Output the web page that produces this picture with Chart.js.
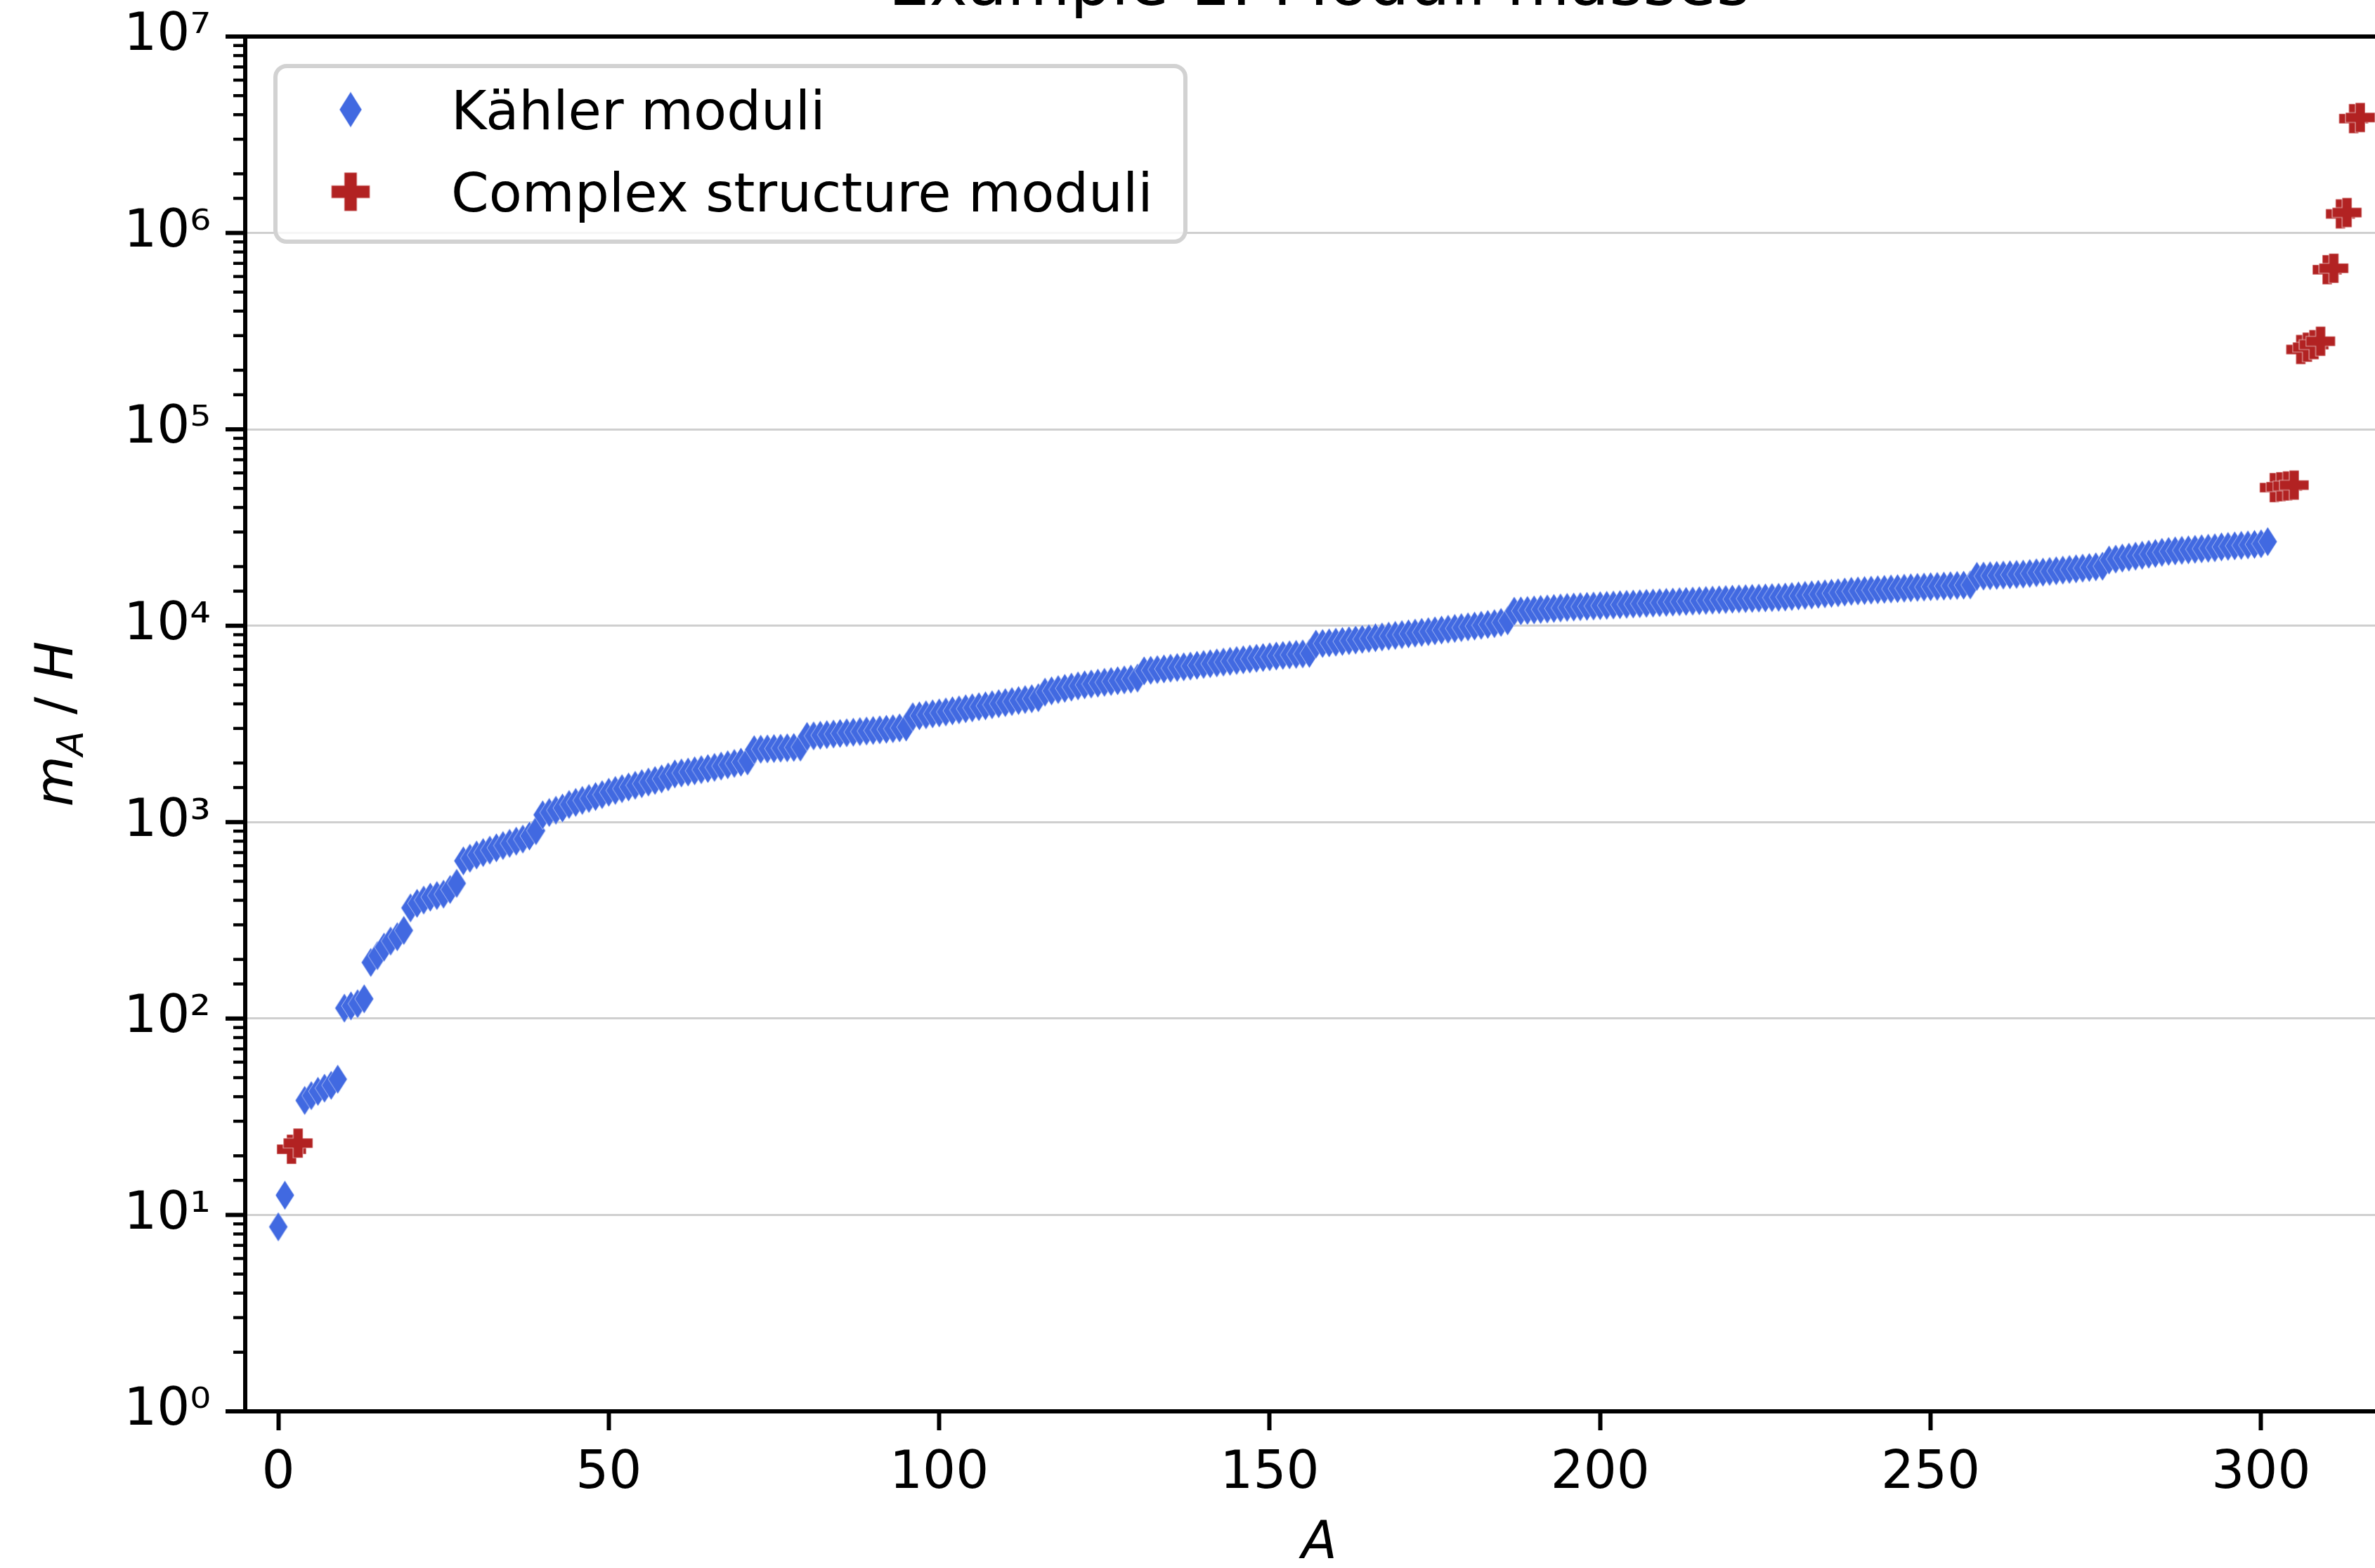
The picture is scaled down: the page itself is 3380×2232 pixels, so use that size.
<!DOCTYPE html>
<html>
<head>
<meta charset="utf-8">
<title>Example 1: Moduli masses</title>
<script src="https://cdn.jsdelivr.net/npm/chart.js@4.4.1/dist/chart.umd.min.js"></script>
<style>
    html, body { margin: 0; padding: 0; background: #fff; overflow: hidden; }
    #wrap { position: absolute; left: 0; top: 0; }
</style>
</head>
<body>
<div id="wrap"><canvas id="chart" width="3440" height="2260"></canvas></div>

<script>
// Mass eigenvalues m_A / H, ordered by A. Complex structure moduli sit at the
// indices in complexA, every other index belongs to a Kähler modulus.
const complexA = [2, 3, 302, 303, 304, 305, 306, 307, 308, 309, 310, 311, 312, 313, 314, 315];
const complexMass = [21.6, 23.2, 50500, 51000, 51500, 52000, 255000, 262000, 270000, 281000,
                     650000, 661000, 1250000, 1270000, 3820000, 3870000];

const kahlerMass = [
    // A = 0, 1
    8.7, 12.6,
    // A = 4 .. 9
    38.3, 40.5, 42.6, 44.2, 45.7, 49.1,
    // A = 10 .. 13
    113, 116, 119, 126,
    // A = 14 .. 19
    193, 209, 231, 248, 261, 281,
    // A = 20 .. 27
    366, 386, 401, 415, 423, 430, 454, 488,
    // A = 28 .. 39
    635, 655, 680, 700, 720, 740, 760, 780, 800, 820, 850, 905,
    // A = 40 .. 53
    1090, 1120, 1150, 1180, 1230, 1260, 1290, 1320, 1350, 1380, 1420, 1450, 1480, 1510,
    // A = 54 .. 60
    1540, 1570, 1600, 1630, 1660, 1700, 1760,
    // A = 61 .. 71
    1780, 1800, 1825, 1850, 1875, 1900, 1930, 1960, 1990, 2020, 2050,
    // A = 72 .. 79
    2340, 2350, 2360, 2370, 2380, 2390, 2400, 2410,
    // A = 80 .. 95
    2730, 2750, 2770, 2790, 2810, 2830, 2850, 2870, 2890, 2910, 2930, 2950, 2970, 2990, 3020, 3050,
    // A = 96 .. 115
    3440, 3480, 3520, 3560, 3600, 3640, 3690, 3730, 3780, 3820,
    3870, 3910, 3960, 4010, 4060, 4110, 4160, 4210, 4250, 4300,
    // A = 116 .. 121
    4590, 4660, 4730, 4800, 4870, 4940,
    // A = 122 .. 130
    5000, 5050, 5100, 5150, 5200, 5250, 5300, 5350, 5410,
    // A = 131 .. 156
    5890, 5930, 5980, 6030, 6080, 6130, 6180, 6230, 6290, 6350, 6410, 6470, 6530,
    6590, 6650, 6710, 6770, 6830, 6890, 6950, 7010, 7060, 7110, 7150, 7190, 7230,
    // A = 157 .. 186
    8060, 8120, 8180, 8250, 8320, 8390, 8460, 8530, 8610, 8690, 8770, 8850, 8930, 9010, 9090,
    9170, 9250, 9330, 9420, 9510, 9600, 9690, 9780, 9870, 9960, 10050, 10150, 10250, 10400, 10600,
    // A = 187 .. 194
    11860, 11900, 11970, 12040, 12110, 12180, 12250, 12320,
    // A = 195 .. 256
    12400, 12450, 12500, 12550, 12600, 12650, 12700, 12750, 12800, 12850,
    12900, 12950, 13000, 13050, 13100, 13150, 13200, 13250, 13300, 13350,
    13400, 13450, 13500, 13550, 13600, 13650, 13700, 13740, 13780, 13820,
    13860, 13900, 13950, 14000, 14090, 14180, 14270, 14360, 14450, 14540,
    14630, 14720, 14850, 14970, 15040, 15110, 15180, 15250, 15320, 15390,
    15460, 15530, 15600, 15670, 15740, 15800, 15860, 15920, 15980, 16040,
    16090, 16140,
    // A = 257 .. 276
    17830, 17900, 17970, 18040, 18110, 18180, 18250, 18320, 18450, 18600,
    18750, 18900, 19050, 19200, 19350, 19500, 19650, 19800, 19950, 20100,
    // A = 277 .. 301
    21600, 21850, 22100, 22350, 22600, 22850, 23100, 23350, 23650, 23900,
    24050, 24200, 24350, 24500, 24650, 24800, 24950, 25200, 25350, 25500,
    25650, 25800, 25950, 26150, 26800
];

const xTicks = [0, 50, 100, 150, 200, 250, 300];
const yTickLabels = ['10⁰', '10¹', '10²', '10³', '10⁴', '10⁵', '10⁶', '10⁷'];

const FONT = 'DejaVu Sans';
const BLUE = '#4169e1';
const RED = '#b22222';

// split the A axis between the two kinds of moduli
const complexPoints = complexA.map((a, i) => ({ x: a, y: complexMass[i] }));
const kahlerPoints = [];
for (let a = 0, k = 0; k < kahlerMass.length; a++) {
    if (complexA.includes(a)) continue;
    kahlerPoints.push({ x: a, y: kahlerMass[k++] });
}

// matplotlib-like marker sprites: thin diamond 'd' and filled plus 'P'
function diamondSprite(w, h, color) {
    const c = document.createElement('canvas');
    c.width = w + 2; c.height = h + 2;
    const g = c.getContext('2d');
    const cx = c.width / 2, cy = c.height / 2;
    g.beginPath();
    g.moveTo(cx, cy - h / 2);
    g.lineTo(cx + w / 2, cy);
    g.lineTo(cx, cy + h / 2);
    g.lineTo(cx - w / 2, cy);
    g.closePath();
    g.fillStyle = color;
    g.fill();
    g.strokeStyle = 'rgba(255,255,255,0.55)';
    g.lineWidth = 1;
    g.stroke();
    return c;
}

function plusSprite(s, color) {
    const c = document.createElement('canvas');
    c.width = s + 2; c.height = s + 2;
    const g = c.getContext('2d');
    const o = 1, t = s / 3;
    g.beginPath();
    g.moveTo(o + t, o);
    g.lineTo(o + 2 * t, o);
    g.lineTo(o + 2 * t, o + t);
    g.lineTo(o + s, o + t);
    g.lineTo(o + s, o + 2 * t);
    g.lineTo(o + 2 * t, o + 2 * t);
    g.lineTo(o + 2 * t, o + s);
    g.lineTo(o + t, o + s);
    g.lineTo(o + t, o + 2 * t);
    g.lineTo(o, o + 2 * t);
    g.lineTo(o, o + t);
    g.lineTo(o + t, o + t);
    g.closePath();
    g.fillStyle = color;
    g.fill();
    g.strokeStyle = 'rgba(255,255,255,0.6)';
    g.lineWidth = 1.2;
    g.stroke();
    return c;
}

const diamond = diamondSprite(27, 42, BLUE);
const plus = plusSprite(42, RED);
const legendSprites = [diamondSprite(32, 51, BLUE), plusSprite(55, RED)];

const isDecade = v => Math.abs(Math.log10(v) - Math.round(Math.log10(v))) < 1e-9;

// frame, minor/major y ticks, title, y label and legend box
const decorations = {
    id: 'decorations',
    afterDraw(chart) {
        const { ctx, chartArea: a } = chart;
        const y = chart.scales.y;
        ctx.save();

        ctx.strokeStyle = '#000';
        y.ticks.forEach(t => {
            const py = y.getPixelForValue(t.value);
            const major = isDecade(t.value);
            const len = major ? 28 : 17;
            ctx.lineWidth = major ? 6 : 4.4;
            ctx.beginPath();
            ctx.moveTo(a.left - len, py);
            ctx.lineTo(a.left, py);
            ctx.stroke();
        });

        ctx.lineWidth = 6;
        ctx.strokeRect(a.left, a.top, a.right - a.left, a.bottom - a.top);

        // title
        ctx.fillStyle = '#000';
        ctx.font = `92px "${FONT}"`;
        ctx.textAlign = 'center';
        ctx.textBaseline = 'alphabetic';
        ctx.fillText('Example 1: Moduli masses', (a.left + a.right) / 2, a.top - 45);

        // y axis label  m_A / H
        ctx.save();
        ctx.translate(103, (a.top + a.bottom) / 2);
        ctx.rotate(-Math.PI / 2);
        ctx.textAlign = 'left';
        const parts = [
            { t: 'm', f: `italic 74px "${FONT}"`, dy: 0 },
            { t: 'A', f: `italic 52px "${FONT}"`, dy: 15 },
            { t: ' / ', f: `74px "${FONT}"`, dy: 0 },
            { t: 'H', f: `italic 74px "${FONT}"`, dy: 0 }
        ];
        let total = 0;
        parts.forEach(p => { ctx.font = p.f; p.w = ctx.measureText(p.t).width; total += p.w; });
        let px = -total / 2;
        parts.forEach(p => { ctx.font = p.f; ctx.fillText(p.t, px, p.dy); px += p.w; });
        ctx.restore();

        // legend
        const bx = a.left + 43, by = a.top + 42, bw = 1295, bh = 250;
        ctx.beginPath();
        ctx.roundRect(bx, by, bw, bh, 16);
        ctx.fillStyle = 'rgba(255,255,255,0.8)';
        ctx.fill();
        ctx.lineWidth = 6;
        ctx.strokeStyle = '#d2d2d2';
        ctx.stroke();
        ctx.font = `77px "${FONT}"`;
        ctx.textAlign = 'left';
        ctx.fillStyle = '#000';
        chart.data.datasets.forEach((ds, i) => {
            const rowY = by + 62 + i * 117;
            const s = legendSprites[i];
            ctx.drawImage(s, bx + 107 - s.width / 2, rowY - s.height / 2);
            ctx.fillText(ds.label, bx + 250, rowY + 28);
        });

        ctx.restore();
    }
};

new Chart(document.getElementById('chart'), {
    type: 'scatter',
    data: {
        datasets: [
            {
                label: 'Kähler moduli',
                data: kahlerPoints,
                pointStyle: diamond,
                backgroundColor: BLUE,
                borderColor: BLUE
            },
            {
                label: 'Complex structure moduli',
                data: complexPoints,
                pointStyle: plus,
                backgroundColor: RED,
                borderColor: RED
            }
        ]
    },
    options: {
        responsive: false,
        devicePixelRatio: 1,
        animation: false,
        events: [],
        layout: { padding: { left: 0, top: 52, right: 34, bottom: 0 } },
        plugins: {
            legend: { display: false },
            tooltip: { enabled: false }
        },
        scales: {
            x: {
                type: 'linear',
                min: -5,
                max: 320,
                afterFit: s => {
                    s.height = 251;
                    s.paddingLeft = 0;
                    s.paddingRight = 0;
                },
                afterBuildTicks: s => { s.ticks = xTicks.map(v => ({ value: v })); },
                border: { display: false },
                grid: {
                    drawOnChartArea: false,
                    drawTicks: true,
                    tickLength: 27,
                    tickWidth: 6,
                    tickColor: '#000'
                },
                ticks: {
                    color: '#000',
                    font: { family: FONT, size: 74 },
                    padding: 18,
                    maxRotation: 0,
                    autoSkip: false
                },
                title: {
                    display: true,
                    text: 'A',
                    color: '#000',
                    font: { family: FONT, size: 74, style: 'italic' },
                    padding: { top: 0, bottom: 17 }
                }
            },
            y: {
                type: 'logarithmic',
                min: 1,
                max: 1e7,
                afterFit: s => {
                    s.width = 349;
                    s.paddingTop = 0;
                    s.paddingBottom = 0;
                },
                border: { display: false },
                grid: {
                    drawTicks: false,
                    lineWidth: 3,
                    color: ctx => ctx.tick && isDecade(ctx.tick.value) ? '#cfcfcf' : 'rgba(0,0,0,0)'
                },
                ticks: {
                    autoSkip: false,
                    padding: 49,
                    color: '#000',
                    font: { family: FONT, size: 74 },
                    callback: v => isDecade(v) ? yTickLabels[Math.round(Math.log10(v))] : ''
                }
            }
        }
    },
    plugins: [decorations]
});
</script>
</body>
</html>
